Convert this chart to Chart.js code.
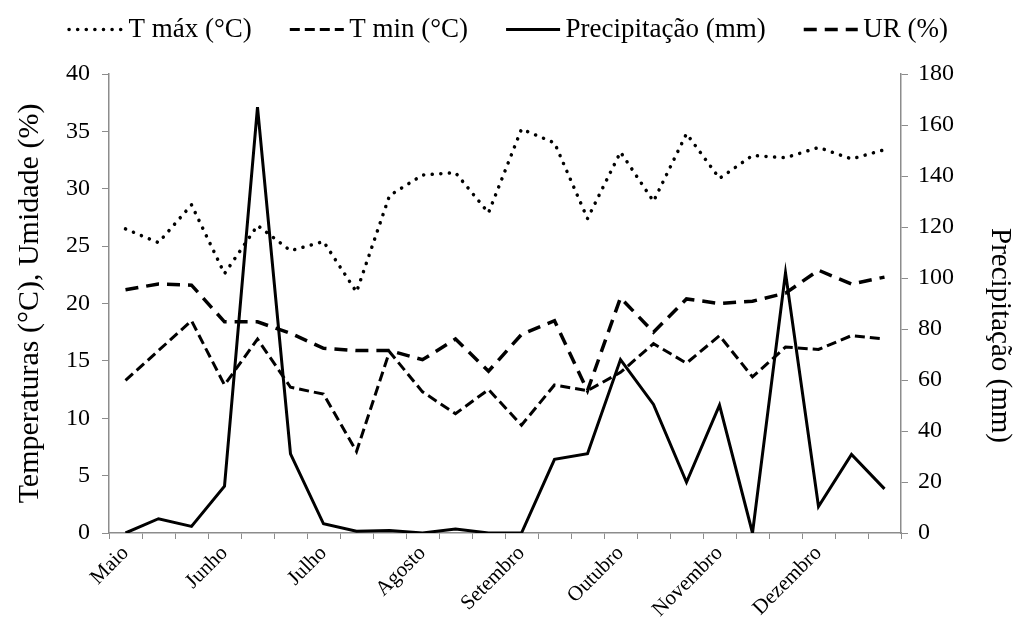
<!DOCTYPE html>
<html>
<head>
<meta charset="utf-8">
<script src="https://cdn.jsdelivr.net/npm/chart.js@4"></script>
<style>
  html, body { margin: 0; padding: 0; background: #fff; }
  #wrap { width: 1017px; height: 630px; }
</style>
</head>
<body>
<div id="wrap"><canvas id="myChart" width="1017" height="630"></canvas></div>
<script>
const months = ['Maio', '', '', 'Junho', '', '', 'Julho', '', '', 'Agosto', '', '',
  'Setembro', '', '', 'Outubro', '', '', 'Novembro', '', '', 'Dezembro', '', ''];
const tMax = [26.5, 25.3, 28.6, 22.6, 26.8, 24.6, 25.4, 21.0, 29.4, 31.2, 31.4, 27.9,
  35.2, 34.0, 27.4, 33.2, 28.9, 34.8, 30.9, 32.9, 32.7, 33.6, 32.6, 33.4];
const tMin = [13.3, 15.9, 18.5, 12.9, 16.9, 12.7, 12.1, 7.1, 15.8, 12.3, 10.4, 12.5,
  9.4, 12.9, 12.4, 14.0, 16.5, 14.8, 17.2, 13.6, 16.2, 16.0, 17.2, 16.9];
const precip = [0, 5.6, 2.6, 18.4, 167, 31, 3.6, 0.7, 1.0, 0, 1.6, 0,
  0, 28.9, 31.1, 68, 50.4, 19.9, 50.1, 0, 102, 10.4, 30.8, 17.3];
const ur = [21.2, 21.7, 21.6, 18.4, 18.4, 17.4, 16.1, 15.9, 15.9, 15.1, 16.9, 14.1,
  17.3, 18.5, 12.4, 20.5, 17.5, 20.4, 20.0, 20.2, 20.9, 22.9, 21.7, 22.3];

const serif = '"Liberation Serif", "Times New Roman", serif';
const axisGray = '#8c8c8c';
const sampleLen = 54;
const rightTitle = 'Precipitação (mm)';

// fixed legend height so the plot top sits at the right place
const legendHeight = {
  id: 'legendHeight',
  beforeInit(chart) {
    const fit = chart.legend.fit;
    chart.legend.fit = function () {
      fit.call(this);
      this.height = 96;
    };
  }
};

// legend line samples, drawn with each dataset's own dash
const legendLines = {
  id: 'legendLines',
  afterDraw(chart) {
    const lg = chart.legend;
    if (!lg || !lg.legendHitBoxes) return;
    const c = chart.ctx;
    lg.legendHitBoxes.forEach((box, i) => {
      const ds = chart.data.datasets[lg.legendItems[i].datasetIndex];
      const y = box.top + box.height / 2;
      c.save();
      c.strokeStyle = ds.borderColor;
      c.lineWidth = ds.borderWidth;
      c.lineCap = ds.borderCapStyle || 'butt';
      c.setLineDash(ds.borderDash || []);
      c.beginPath();
      c.moveTo(box.left, y);
      c.lineTo(box.left + sampleLen, y);
      c.stroke();
      c.restore();
    });
  }
};

// right axis title sits a little below the middle in the original
const rightTitlePlugin = {
  id: 'rightTitle',
  afterDraw(chart) {
    const c = chart.ctx;
    const s = chart.scales.y1;
    c.save();
    c.translate(s.right - 17, (s.top + s.bottom) / 2 + 32);
    c.rotate(Math.PI / 2);
    c.font = '29px ' + serif;
    c.fillStyle = '#000';
    c.textAlign = 'center';
    c.textBaseline = 'middle';
    c.fillText(rightTitle, 0, 0);
    c.restore();
  }
};

window.addEventListener('load', setup);

function setup() {
  const ctx = document.getElementById('myChart').getContext('2d');
  new Chart(ctx, {
    type: 'line',
    data: {
      labels: months,
      datasets: [
        {
          label: 'T máx (°C)',
          data: tMax,
          yAxisID: 'y',
          borderColor: '#000',
          backgroundColor: 'transparent',
          borderWidth: 3.5,
          borderDash: [0.1, 8.5],
          borderCapStyle: 'round',
          pointRadius: 0
        },
        {
          label: 'T min (°C)',
          data: tMin,
          yAxisID: 'y',
          borderColor: '#000',
          backgroundColor: 'transparent',
          borderWidth: 3,
          borderDash: [10, 5],
          pointRadius: 0
        },
        {
          label: 'Precipitação (mm)',
          data: precip,
          yAxisID: 'y1',
          borderColor: '#000',
          backgroundColor: 'transparent',
          borderWidth: 3,
          pointRadius: 0
        },
        {
          label: 'UR (%)',
          data: ur,
          yAxisID: 'y',
          borderColor: '#000',
          backgroundColor: 'transparent',
          borderWidth: 3.5,
          borderDash: [13, 8],
          pointRadius: 0
        }
      ]
    },
    options: {
      responsive: false,
      animation: false,
      layout: { padding: { left: 0, right: 0, top: -22, bottom: 0 } },
      plugins: {
        tooltip: { enabled: false },
        legend: {
          position: 'top',
          labels: {
            color: '#000',
            font: { family: serif, size: 27 },
            boxWidth: 46,
            boxHeight: 0,
            padding: 38,
            generateLabels(chart) {
              const items = Chart.defaults.plugins.legend.labels.generateLabels(chart);
              items.forEach(it => {
                it.strokeStyle = 'transparent';
                it.fillStyle = 'transparent';
                it.lineWidth = 0;
              });
              return items;
            }
          }
        }
      },
      scales: {
        x: {
          offset: true,
          afterFit: (s) => { s.height = 97; },
          grid: {
            offset: true,
            drawOnChartArea: false,
            color: axisGray,
            tickLength: 6
          },
          border: { color: axisGray, width: 1.5 },
          ticks: {
            autoSkip: false,
            maxRotation: 45,
            minRotation: 45,
            color: '#000',
            padding: 2,
            font: { family: serif, size: 21 }
          }
        },
        y: {
          position: 'left',
          min: 0,
          max: 40,
          afterFit: (s) => { s.width = 109; },
          ticks: {
            stepSize: 5,
            color: '#000',
            padding: 12,
            font: { family: serif, size: 24 }
          },
          grid: { drawOnChartArea: false, color: axisGray, tickLength: 7 },
          border: { color: axisGray, width: 1.5 },
          title: {
            display: true,
            text: 'Temperaturas (°C), Umidade (%)',
            color: '#000',
            font: { family: serif, size: 30 },
            padding: { top: 12, bottom: 0 }
          }
        },
        y1: {
          position: 'right',
          min: 0,
          max: 180,
          afterFit: (s) => { s.width = 116; },
          ticks: {
            stepSize: 20,
            color: '#000',
            padding: 10,
            font: { family: serif, size: 24 }
          },
          grid: { drawOnChartArea: false, color: axisGray, tickLength: 7 },
          border: { color: axisGray, width: 1.5 }
        }
      }
    },
    plugins: [legendHeight, legendLines, rightTitlePlugin]
  });
}
</script>
</body>
</html>
